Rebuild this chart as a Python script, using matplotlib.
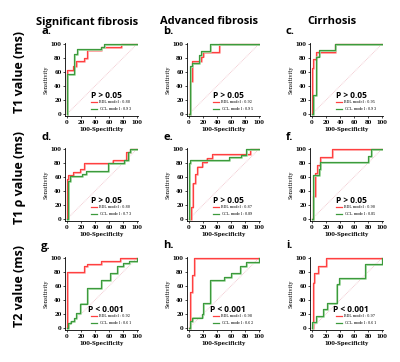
import matplotlib
matplotlib.use("Agg")
import matplotlib.pyplot as plt
import matplotlib.transforms as mtransforms
import numpy as np

# ROC step vertices (100-specificity, sensitivity)
bdl_a = [(0,0),(0,63),(9,63),(9,68),(13,68),(13,76),(24,76),(24,80),(28,80),(28,91),(48,91),(48,96),(77,96),(77,100),(100,100)]
ccl_a = [(0,0),(0,57),(10,57),(10,86),(14,86),(14,93),(33,93),(33,93),(48,93),(48,96),(53,96),(53,100),(100,100)]
bdl_b = [(0,0),(2,0),(2,47),(4,47),(4,76),(17,76),(17,82),(20,82),(20,88),(43,88),(43,100),(100,100)]
ccl_b = [(0,0),(1,0),(1,68),(4,68),(4,73),(14,73),(14,84),(17,84),(17,90),(30,90),(30,100),(100,100)]
bdl_c = [(0,0),(0.5,0),(0.5,65),(2,65),(2,78),(6,78),(6,89),(33,89),(33,100),(100,100)]
ccl_c = [(0,0),(1,0),(1,27),(6,27),(6,82),(10,82),(10,91),(33,91),(33,100),(100,100)]
bdl_d = [(0,0),(0,57),(2,57),(2,63),(9,63),(9,67),(18,67),(18,72),(24,72),(24,80),(65,80),(65,84),(85,84),(85,96),(90,96),(90,100),(100,100)]
ccl_d = [(0,0),(1,0),(1,54),(4,54),(4,61),(22,61),(22,64),(27,64),(27,68),(58,68),(58,80),(82,80),(82,84),(87,84),(87,96),(90,96),(90,100),(100,100)]
bdl_e = [(0,0),(3,0),(3,17),(5,17),(5,52),(8,52),(8,64),(11,64),(11,75),(19,75),(19,82),(25,82),(25,87),(33,87),(33,93),(87,93),(87,100),(100,100)]
ccl_e = [(0,0),(0,80),(2,80),(2,84),(57,84),(57,88),(74,88),(74,92),(82,92),(82,100),(100,100)]
bdl_f = [(0,0),(2,0),(2,33),(4,33),(4,66),(7,66),(7,77),(12,77),(12,88),(28,88),(28,100),(100,100)]
ccl_f = [(0,0),(1,0),(1,63),(10,63),(10,72),(12,72),(12,81),(80,81),(80,90),(84,90),(84,100),(100,100)]
bdl_g = [(0,0),(0,80),(24,80),(24,88),(28,88),(28,92),(48,92),(48,96),(76,96),(76,100),(100,100)]
ccl_g = [(0,0),(1,0),(1,7),(5,7),(5,10),(10,10),(10,14),(13,14),(13,21),(18,21),(18,35),(28,35),(28,57),(48,57),(48,68),(62,68),(62,78),(72,78),(72,89),(80,89),(80,93),(89,93),(89,96),(100,96),(100,100)]
bdl_h = [(0,0),(2,0),(2,52),(4,52),(4,76),(7,76),(7,100),(100,100)]
ccl_h = [(0,0),(1,0),(1,10),(4,10),(4,15),(18,15),(18,20),(20,20),(20,36),(30,36),(30,68),(50,68),(50,73),(60,73),(60,78),(73,78),(73,89),(81,89),(81,94),(100,94),(100,100)]
bdl_i = [(0,0),(1,0),(1,65),(3,65),(3,78),(9,78),(9,88),(20,88),(20,100),(100,100)]
ccl_i = [(0,0),(0,9),(6,9),(6,17),(16,17),(16,27),(21,27),(21,36),(35,36),(35,63),(38,63),(38,72),(76,72),(76,91),(100,91),(100,100)]

bdl_curves = [bdl_a, bdl_b, bdl_c, bdl_d, bdl_e, bdl_f, bdl_g, bdl_h, bdl_i]
ccl_curves = [ccl_a, ccl_b, ccl_c, ccl_d, ccl_e, ccl_f, ccl_g, ccl_h, ccl_i]
bdl_auc = ["0.88", "0.92", "0.95", "0.80", "0.87", "0.90", "0.92", "0.98", "0.97"]
ccl_auc = ["0.93", "0.95", "0.93", "0.73", "0.89", "0.85", "0.61", "0.62", "0.61"]
p_text = ["P > 0.05"] * 6 + ["P < 0.001"] * 3
letters = ["a.", "b.", "c.", "d.", "e.", "f.", "g.", "h.", "i."]
col_titles = ["Significant fibrosis", "Advanced fibrosis", "Cirrhosis"]
row_titles = ["T1 value (ms)", "T1 \u03c1 value (ms)", "T2 value (ms)"]

W, H = 400, 362
fig = plt.figure(figsize=(W / 100, H / 100), dpi=100)

col_x0 = [67, 189, 312]     # pixel of data x=0
row_y0 = [114, 219, 328]    # pixel of data y=0
s = 0.70                    # px per data unit

red, red_l = "#ff4040", "#ffb0b0"
grn, grn_l = "#3c9a3c", "#a8dca8"
serif = "DejaVu Serif"

for k in range(9):
    r, c = divmod(k, 3)
    left = (col_x0[c] - 3 * s) / W
    bottom = 1 - (row_y0[r] + 3 * s) / H
    ax = fig.add_axes([left, bottom, 104 * s / W, 104 * s / H])
    ax.set_xlim(-3, 101)
    ax.set_ylim(-3, 101)
    ax.plot([0, 100], [0, 100], color="#f0c0c8", lw=0.6, ls=(0, (1, 1)))
    for pts, col, col_l, lab in [(bdl_curves[k], red, red_l, "BDL model : " + bdl_auc[k]),
                                  (ccl_curves[k], grn, grn_l, "CCl$_4$ model : " + ccl_auc[k])]:
        xs = [p[0] for p in pts]
        ys = [p[1] for p in pts]
        off = mtransforms.offset_copy(ax.transData, fig=fig, x=0.9, y=-0.9, units="dots")
        ax.plot(xs, ys, color=col_l, lw=1.3, transform=off)
        ax.plot(xs, ys, color=col, lw=0.9, label=lab)
    for sp in ["top", "right"]:
        ax.spines[sp].set_visible(False)
    for sp in ["left", "bottom"]:
        ax.spines[sp].set_linewidth(0.6)
    ax.set_xticks(np.arange(0, 101, 20))
    ax.set_yticks(np.arange(0, 101, 20))
    ax.tick_params(labelsize=3.8, length=1.5, width=0.5, pad=1)
    for t in ax.get_xticklabels() + ax.get_yticklabels():
        t.set_family(serif)
        t.set_fontweight("bold")
    ax.set_xlabel("100-Specificity", fontsize=3.8, family=serif, fontweight="bold", labelpad=1.5)
    ax.set_ylabel("Sensitivity", fontsize=3.8, family=serif, labelpad=1.5)
    ax.text(56, 26, p_text[k], fontsize=6, fontweight="bold", ha="center", va="center", family="Open Sans")
    ax.legend(loc="lower left", bbox_to_anchor=(0.33, 0.02), frameon=False,
              handlelength=1.8, handletextpad=0.4, labelspacing=0.15, borderpad=0.1,
              prop={"family": serif, "size": 2.5})
    fig.text((col_x0[c] - 26) / W, 1 - (row_y0[r] - 82) / H, letters[k],
             fontsize=8, fontweight="bold", family="Open Sans", ha="left", va="center")

for c, t in enumerate(col_titles):
    fig.text((col_x0[c] + 20) / W, 1 - 22 / H, t, fontsize=8, fontweight="bold",
             family="Open Sans", ha="center", va="center")
for r, t in enumerate(row_titles):
    fig.text(20 / W, 1 - (row_y0[r] - 42) / H, t, fontsize=9, fontweight="bold",
             family="Open Sans", rotation=90, ha="center", va="center")

fig.savefig("out.png", dpi=100)
